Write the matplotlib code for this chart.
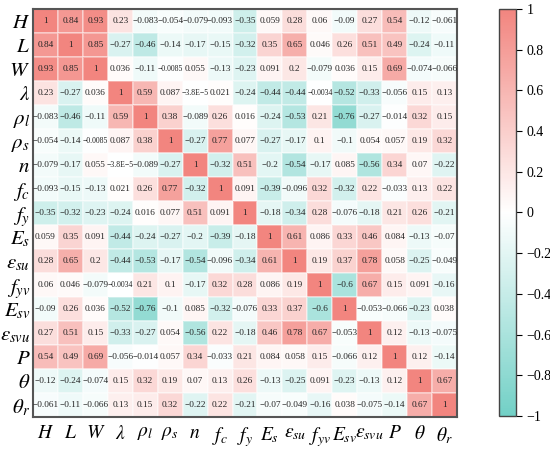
import matplotlib
matplotlib.use("Agg")
import matplotlib.pyplot as plt
import numpy as np
from matplotlib.colors import LinearSegmentedColormap

labels = [r"$H$", r"$L$", r"$W$", r"$\lambda$", r"$\rho_l$", r"$\rho_s$", r"$n$",
          r"$f_c$", r"$f_y$", r"$E_s$", r"$\varepsilon_{su}$", r"$f_{yv}$",
          r"$E_{sv}$", r"$\varepsilon_{svu}$", r"$P$", r"$\theta$", r"$\theta_r$"]

r_H    = [1, 0.84, 0.93, 0.23, -0.083, -0.054, -0.079, -0.093, -0.35, 0.059, 0.28, 0.06, -0.09, 0.27, 0.54, -0.12, -0.061]
r_L    = [0.84, 1, 0.85, -0.27, -0.46, -0.14, -0.17, -0.15, -0.32, 0.35, 0.65, 0.046, 0.26, 0.51, 0.49, -0.24, -0.11]
r_W    = [0.93, 0.85, 1, 0.036, -0.11, -0.0085, 0.055, -0.13, -0.23, 0.091, 0.2, -0.079, 0.036, 0.15, 0.69, -0.074, -0.066]
r_lam  = [0.23, -0.27, 0.036, 1, 0.59, 0.087, -3.8e-5, 0.021, -0.24, -0.44, -0.44, -0.0034, -0.52, -0.33, -0.056, 0.15, 0.13]
r_rhol = [-0.083, -0.46, -0.11, 0.59, 1, 0.38, -0.089, 0.26, 0.016, -0.24, -0.53, 0.21, -0.76, -0.27, -0.014, 0.32, 0.15]
r_rhos = [-0.054, -0.14, -0.0085, 0.087, 0.38, 1, -0.27, 0.77, 0.077, -0.27, -0.17, 0.1, -0.1, 0.054, 0.057, 0.19, 0.32]
r_n    = [-0.079, -0.17, 0.055, -3.8e-5, -0.089, -0.27, 1, -0.32, 0.51, -0.2, -0.54, -0.17, 0.085, -0.56, 0.34, 0.07, -0.22]
r_fc   = [-0.093, -0.15, -0.13, 0.021, 0.26, 0.77, -0.32, 1, 0.091, -0.39, -0.096, 0.32, -0.32, 0.22, -0.033, 0.13, 0.22]
r_fy   = [-0.35, -0.32, -0.23, -0.24, 0.016, 0.077, 0.51, 0.091, 1, -0.18, -0.34, 0.28, -0.076, -0.18, 0.21, 0.26, -0.21]
r_Es   = [0.059, 0.35, 0.091, -0.44, -0.24, -0.27, -0.2, -0.39, -0.18, 1, 0.61, 0.086, 0.33, 0.46, 0.084, -0.13, -0.07]
r_esu  = [0.28, 0.65, 0.2, -0.44, -0.53, -0.17, -0.54, -0.096, -0.34, 0.61, 1, 0.19, 0.37, 0.78, 0.058, -0.25, -0.049]
r_fyv  = [0.06, 0.046, -0.079, -0.0034, 0.21, 0.1, -0.17, 0.32, 0.28, 0.086, 0.19, 1, -0.6, 0.67, 0.15, 0.091, -0.16]
r_Esv  = [-0.09, 0.26, 0.036, -0.52, -0.76, -0.1, 0.085, -0.32, -0.076, 0.33, 0.37, -0.6, 1, -0.053, -0.066, -0.23, 0.038]
r_esvu = [0.27, 0.51, 0.15, -0.33, -0.27, 0.054, -0.56, 0.22, -0.18, 0.46, 0.78, 0.67, -0.053, 1, 0.12, -0.13, -0.075]
r_P    = [0.54, 0.49, 0.69, -0.056, -0.014, 0.057, 0.34, -0.033, 0.21, 0.084, 0.058, 0.15, -0.066, 0.12, 1, 0.12, -0.14]
r_th   = [-0.12, -0.24, -0.074, 0.15, 0.32, 0.19, 0.07, 0.13, 0.26, -0.13, -0.25, 0.091, -0.23, -0.13, 0.12, 1, 0.67]
r_thr  = [-0.061, -0.11, -0.066, 0.13, 0.15, 0.32, -0.22, 0.22, -0.21, -0.07, -0.049, -0.16, 0.038, -0.075, -0.14, 0.67, 1]

corr = np.array([r_H, r_L, r_W, r_lam, r_rhol, r_rhos, r_n, r_fc, r_fy, r_Es,
                 r_esu, r_fyv, r_Esv, r_esvu, r_P, r_th, r_thr])


def fmt(v):
    s = f"{v:.2g}"
    if "e" in s:
        m, e = s.split("e")
        s = m + "E" + str(int(e))
    return s.replace("-", "\u2212")


plt.rcParams["font.family"] = ["Liberation Serif", "DejaVu Serif"]
plt.rcParams["mathtext.fontset"] = "stix"

cmap = LinearSegmentedColormap.from_list("tr", ["#72d0c6", "#ffffff", "#f2857f"])

fig = plt.figure(figsize=(5.5, 4.5), dpi=100)
ax = fig.add_axes([33/550, 1-417/450, 424/550, 408/450])
cax = fig.add_axes([499/550, 1-416/450, 17/550, 407/450])

n = len(labels)
im = ax.pcolormesh(corr, cmap=cmap, vmin=-1, vmax=1, edgecolors=(1, 1, 1, 0.35), linewidth=0.2)
ax.set_xlim(0, n)
ax.set_ylim(n, 0)
for i in range(n):
    for j in range(n):
        txt = fmt(corr[i, j])
        fs = 6.7 if len(txt) <= 6 else 5.6
        ax.text(j + 0.5, i + 0.5, txt, ha="center", va="center",
                fontsize=fs, color="#222222")

ax.set_xticks(np.arange(n) + 0.5)
ax.set_yticks(np.arange(n) + 0.5)
ax.set_xticklabels(labels, fontsize=14)
ax.set_yticklabels(labels, fontsize=15)
ax.tick_params(axis="y", length=0, pad=2)
ax.tick_params(axis="x", length=0, pad=6)
for s in ax.spines.values():
    s.set_color("#555555")
    s.set_linewidth(1.5)

cb = fig.colorbar(im, cax=cax, ticks=np.linspace(-1, 1, 11))
cb.ax.set_yticklabels([fmt(round(t, 1)) for t in np.linspace(-1, 1, 11)])
cb.ax.tick_params(labelsize=10, length=4, width=0.8)
cb.outline.set_edgecolor("#444444")
cb.outline.set_linewidth(1)

fig.savefig("out.png", dpi=100)
